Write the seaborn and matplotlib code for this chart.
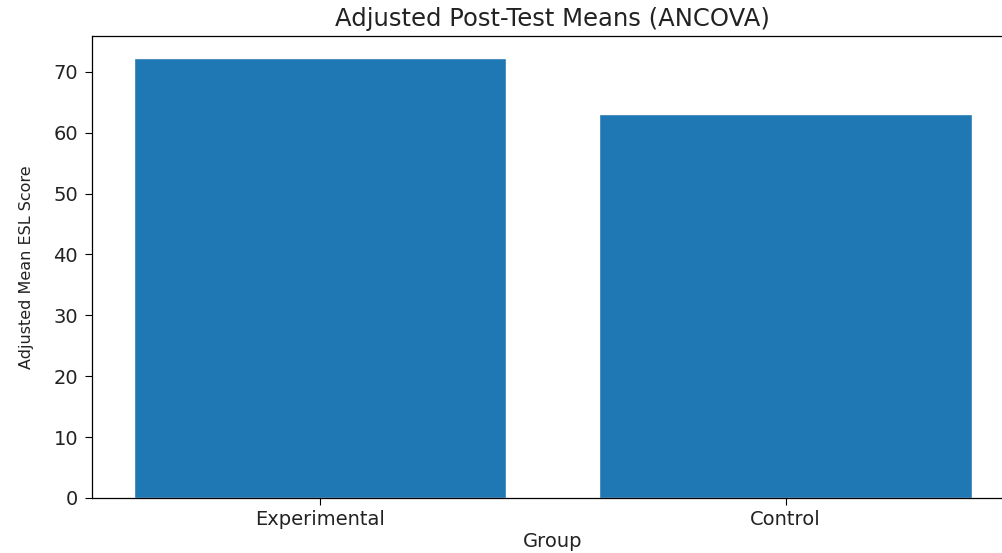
import matplotlib
matplotlib.use("Agg")
import matplotlib.pyplot as plt
import seaborn as sns
import pandas as pd

groups = ["Experimental", "Control"]
adjusted_means = [72.3, 63.0]

df = pd.DataFrame({"Group": groups, "Adjusted Mean ESL Score": adjusted_means})

sns.set_style("ticks")
plt.rcParams["font.family"] = ["DejaVu Sans"]

fig = plt.figure(figsize=(10.02, 5.53), dpi=100)
ax = fig.add_axes([0.0918, 0.0995, 0.920, 0.8357])

sns.barplot(data=df, x="Group", y="Adjusted Mean ESL Score", color="#1f77b4",
            saturation=1, width=0.8, ax=ax)

ax.set_xlim(-0.49, 1.49)
ax.set_ylim(0, 72.3 * 1.05)
ax.set_yticks([0, 10, 20, 30, 40, 50, 60, 70])
for s in ax.spines.values():
    s.set_visible(True)
    s.set_color("black")
    s.set_linewidth(0.9)
ax.tick_params(axis="both", labelsize=14, length=5, color="black", labelcolor="#222222")
ax.tick_params(axis="y", pad=5)
ax.set_title("Adjusted Post-Test Means (ANCOVA)", fontsize=17.5, pad=7, color="#222222")
ax.set_xlabel("Group", fontsize=14, labelpad=2, color="#222222")
ax.set_ylabel("Adjusted Mean ESL Score", fontsize=11.5, labelpad=14, color="#222222")

fig.savefig("out.png", dpi=100)
